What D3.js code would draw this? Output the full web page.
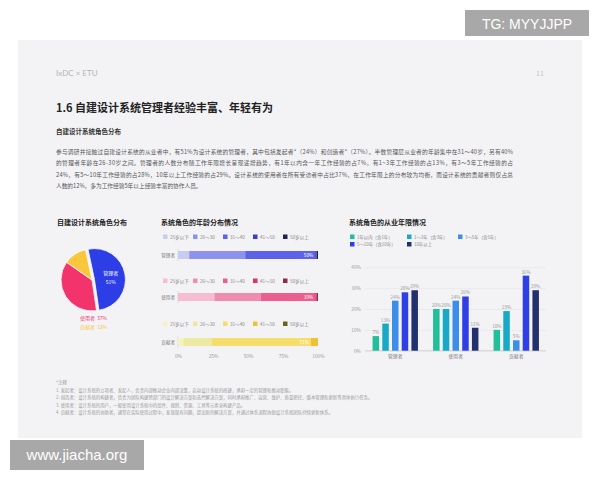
<!DOCTYPE html>
<html><head><meta charset="utf-8">
<script src="https://cdn.jsdelivr.net/npm/d3@7"></script>
<style>
html,body{margin:0;padding:0;background:#fff;}
svg{display:block;font-family:"Noto Sans CJK SC","Noto Sans",sans-serif;}
</style></head>
<body><svg id="c" width="600" height="480"></svg>
<script>
// ---------- data ----------
const pieRoles = ["管理者", "使用者", "贡献者"];
const pieValues = [51, 37, 12];

const ageGroups = ["25岁以下", "26～30", "31～40", "41～50", "50岁以上"];
const ageRoles = ["管理者", "使用者", "贡献者"];
const ageManager = [8, 40, 50, 1, 1];
const ageUser = [26, 33, 39, 1, 1];
const ageContrib = [4, 20, 71, 5, 0];
const ageTicks = [0, 25, 50, 75, 100];

const yearGroups = ["1年以内（含1年）", "1～3年（含3年）", "3～5年（含5年）", "5～10年（含10年）", "10年以上"];
const yearRoles = ["管理者", "使用者", "贡献者"];
const yearManager = [7, 13, 24, 28, 29];
const yearUser = [20, 20, 24, 26, 11];
const yearContrib = [10, 19, 5, 36, 29];
const yearTicks = [0, 10, 20, 30, 40];

const bodyLines = [
  "参与调研并接触过自建设计系统的从业者中，有51%为设计系统的管理者，其中包括发起者*（24%）和创造者*（27%）。半数管理层从业者的年龄集中在31～40岁，另有40%",
  "的管理者年龄在26-30岁之间。管理者的人数分布随工作年限增长呈现递增趋势，有1年以内含一年工作经验的占7%，有1~3年工作经验的占13%，有3～5年工作经验的占",
  "24%，有5～10年工作经验的占28%，10年以上工作经验的占29%。设计系统的使用者在所有受访者中占比37%，在工作年限上的分布较为均衡，而设计系统的贡献者则仅占总",
  "人数的12%，多为工作经验5年以上经验丰富的协作人员。"
];
const noteLines = [
  "*注释",
  "1. 发起者：设计系统的立项者、发起人，负责内部推动企业内部决策，启动设计系统的搭建，承担一定的管理和推动职能。",
  "2. 创造者：设计系统的构建者，负责为团队构建跨部门的设计解决方案和迭代解决方案，同时承担推广、运营、维护、质量把控、版本管理和更新等具体执行任务。",
  "3. 使用者：设计系统的用户，一般使用设计系统中的组件、规则、资源、工具等元素来构建产品。",
  "4. 贡献者：设计系统的协助者，通常在实际使用过程中，发现现有问题，提出新的解决方案，并通过体系流程协助设计系统团队持续更新体系。"
];

// ---------- setup ----------
const svg = d3.select("#c");
svg.append("rect").attr("x", 18).attr("y", 40).attr("width", 564).attr("height", 398).attr("fill", "#f3f3f5");

// header
svg.append("text").attr("x", 56).attr("y", 76).attr("font-size", 8).attr("fill", "#b4b4b8").attr("font-family", "Lato, sans-serif").text("IxDC × ETU");
svg.append("text").attr("x", 540).attr("y", 76).attr("font-size", 7).attr("fill", "#c4c4c8").attr("text-anchor", "middle").text("11");
svg.append("text").attr("x", 56).attr("y", 112).attr("font-size", 11).attr("font-weight", "bold").attr("fill", "#222").text("1.6 自建设计系统管理者经验丰富、年轻有为");
svg.append("text").attr("x", 56).attr("y", 134).attr("font-size", 6.5).attr("font-weight", "bold").attr("fill", "#333").text("自建设计系统角色分布");
bodyLines.forEach((l, i) => {
  svg.append("text").attr("x", 56).attr("y", 154 + i * 11.3).attr("font-size", 5.7).attr("fill", "#555").attr("textLength", i < 3 ? 457 : null).text(l);
});

// ---------- pie ----------
const pieColors = ["#2d3ee6", "#f2336c", "#fac63c"];
svg.append("text").attr("x", 57).attr("y", 225).attr("font-size", 7).attr("font-weight", "bold").attr("fill", "#222").text("自建设计系统角色分布");
const pcx = 92, pcy = 280, pr = 31;
const pie = d3.pie().sort(null).startAngle(-12 * Math.PI / 180).endAngle(348 * Math.PI / 180);
const arcs = pie(pieValues);
const arc = d3.arc().innerRadius(0).outerRadius(pr);
const pg = svg.append("g").attr("transform", `translate(${pcx},${pcy})`);
arcs.forEach((a, i) => {
  const mid = (a.startAngle + a.endAngle) / 2;
  const off = i === 0 ? 2.5 : 0;
  pg.append("path").attr("d", arc(a)).attr("fill", pieColors[i])
    .attr("stroke", "#fff").attr("stroke-width", 0.8)
    .attr("transform", `translate(${Math.sin(mid) * off},${-Math.cos(mid) * off})`);
});
{
  const c = d3.arc().innerRadius(0).outerRadius(pr * 1.1).centroid(arcs[0]);
  pg.append("text").attr("x", c[0] + 2).attr("y", c[1] - 2).attr("font-size", 5).attr("fill", "#fff").attr("text-anchor", "middle").text(pieRoles[0]);
  pg.append("text").attr("x", c[0] + 2).attr("y", c[1] + 7).attr("font-size", 5).attr("fill", "#fff").attr("text-anchor", "middle").text(pieValues[0] + "%");
}
[1, 2].forEach((i, k) => {
  svg.append("text").attr("x", 80).attr("y", 320 + k * 9).attr("font-size", 5).attr("fill", pieColors[i]).text(pieRoles[i]);
  svg.append("text").attr("x", 97).attr("y", 320 + k * 9).attr("font-size", 5).attr("fill", pieColors[i]).text(pieValues[i] + "%");
});

// ---------- stacked age bars ----------
svg.append("text").attr("x", 161).attr("y", 225).attr("font-size", 7).attr("font-weight", "bold").attr("fill", "#222").text("系统角色的年龄分布情况");
const ageData = [ageManager, ageUser, ageContrib];
const agePalettes = [
  ["#c9cbf3", "#8d92ee", "#5c63e8", "#3a3fcf", "#20234f"],
  ["#f6bdd0", "#f08cae", "#ec5e8d", "#e1306a", "#8b2c4d"],
  ["#f8f1c4", "#ece9a2", "#f6de6c", "#eec237", "#6f6322"]
];
const ax = d3.scaleLinear().domain([0, 100]).range([178, 318]);
const rowY = [255, 297, 342];
const legY = [238, 282, 325];
const legX = d3.scalePoint().domain(ageGroups).range([163, 283]);
ageData.forEach((vals, r) => {
  ageGroups.forEach((g, j) => {
    svg.append("rect").attr("x", legX(g)).attr("y", legY[r] - 3.5).attr("width", 4.5).attr("height", 4.5).attr("fill", agePalettes[r][j]);
    svg.append("text").attr("x", legX(g) + 7).attr("y", legY[r] + 0.8).attr("font-size", 4.6).attr("fill", "#888").text(g);
  });
  svg.append("text").attr("x", 175).attr("y", rowY[r] + 1.5).attr("font-size", 4.6).attr("fill", "#777").attr("text-anchor", "end").text(ageRoles[r]);
  svg.append("line").attr("x1", ax(0)).attr("x2", ax(0)).attr("y1", rowY[r] - 6).attr("y2", rowY[r] + 6).attr("stroke", "#ccc").attr("stroke-width", 0.6);
  const stack = d3.stack().keys(d3.range(vals.length))([vals]);
  let maxIdx = vals.indexOf(d3.max(vals));
  stack.forEach((s, j) => {
    const d = s[0];
    svg.append("rect").attr("x", ax(d[0])).attr("y", rowY[r] - 4).attr("width", ax(d[1]) - ax(d[0])).attr("height", 8).attr("fill", agePalettes[r][j]);
    if (j === maxIdx) {
      svg.append("text").attr("x", ax(d[1]) - 2).attr("y", rowY[r] + 1.6).attr("font-size", 4.6).attr("fill", "#fff").attr("text-anchor", "end").text(vals[j] + "%");
    }
  });
});
const axG = svg.append("g").attr("transform", "translate(0,352)")
  .call(d3.axisBottom(ax).tickValues(ageTicks).tickFormat(d => d + "%").tickSize(0));
axG.select(".domain").remove();
axG.selectAll("text").attr("font-size", 4.8).attr("fill", "#999").attr("font-family", "Noto Sans CJK SC, sans-serif");

// ---------- grouped years bars ----------
svg.append("text").attr("x", 349).attr("y", 225).attr("font-size", 7).attr("font-weight", "bold").attr("fill", "#222").text("系统角色的从业年限情况");
const yearColors = ["#22bf9b", "#18a9c6", "#3b8fe8", "#2f3fe6", "#22306e"];
const legPos = [[350, 238], [407, 238], [458, 238], [350, 245.5], [407, 245.5]];
yearGroups.forEach((g, j) => {
  svg.append("rect").attr("x", legPos[j][0]).attr("y", legPos[j][1] - 3.5).attr("width", 4.5).attr("height", 4.5).attr("fill", yearColors[j]);
  svg.append("text").attr("x", legPos[j][0] + 7).attr("y", legPos[j][1] + 0.8).attr("font-size", 4.4).attr("fill", "#888").text(g);
});
const yData = [yearManager, yearUser, yearContrib];
const gx = d3.scaleBand().domain(yearRoles).range([365, 546.5]).paddingInner(0.25).paddingOuter(0.125);
const ix = d3.scaleBand().domain(d3.range(yearGroups.length)).range([0, gx.bandwidth()]).paddingInner(0.33);
const gy = d3.scaleLinear().domain([0, 40]).range([350.7, 267.3]);
const yAx = svg.append("g").attr("transform", "translate(365,0)")
  .call(d3.axisLeft(gy).tickValues(yearTicks).tickFormat(d => d + "%").tickSize(-181));
yAx.select(".domain").remove();
yAx.selectAll(".tick line").attr("stroke", "#e2e2e6").attr("stroke-width", 0.6);
yAx.selectAll("text").attr("font-size", 4.8).attr("fill", "#999").attr("x", -4).attr("font-family", "Noto Sans CJK SC, sans-serif");
svg.append("line").attr("x1", 365).attr("x2", 546).attr("y1", gy(0)).attr("y2", gy(0)).attr("stroke", "#c8c8cc").attr("stroke-width", 0.7);
yData.forEach((vals, r) => {
  const g0 = gx(yearRoles[r]);
  vals.forEach((v, j) => {
    const x = g0 + ix(j);
    svg.append("rect").attr("x", x).attr("y", gy(v)).attr("width", ix.bandwidth()).attr("height", gy(0) - gy(v)).attr("fill", yearColors[j]);
    svg.append("text").attr("x", x + ix.bandwidth() / 2).attr("y", gy(v) - 2).attr("font-size", 4.6).attr("fill", "#999").attr("text-anchor", "middle").text(v + "%");
  });
});
const xAx = svg.append("g").attr("transform", `translate(0,${gy(0)})`).call(d3.axisBottom(gx).tickSize(0).tickPadding(4));
xAx.select(".domain").remove();
xAx.selectAll("text").attr("font-size", 4.8).attr("fill", "#777").attr("font-family", "Noto Sans CJK SC, sans-serif");

// ---------- notes ----------
noteLines.forEach((l, i) => {
  svg.append("text").attr("x", 56).attr("y", 384 + i * 7.6).attr("font-size", 4.4).attr("fill", "#999").text(l);
});

// ---------- watermarks ----------
svg.append("rect").attr("x", 465).attr("y", 10).attr("width", 124).attr("height", 26).attr("fill", "#a8a8a8");
svg.append("text").attr("x", 527).attr("y", 28.5).attr("font-size", 14).attr("fill", "#fff").attr("text-anchor", "middle").attr("font-family", "Liberation Sans, Arial, sans-serif").text("TG: MYYJJPP");
svg.append("rect").attr("x", 10).attr("y", 440).attr("width", 134).attr("height", 30).attr("fill", "#a8a8a8");
svg.append("text").attr("x", 77).attr("y", 460).attr("font-size", 15).attr("fill", "#fff").attr("text-anchor", "middle").attr("font-family", "Liberation Sans, Arial, sans-serif").text("www.jiacha.org");
</script></body></html>
